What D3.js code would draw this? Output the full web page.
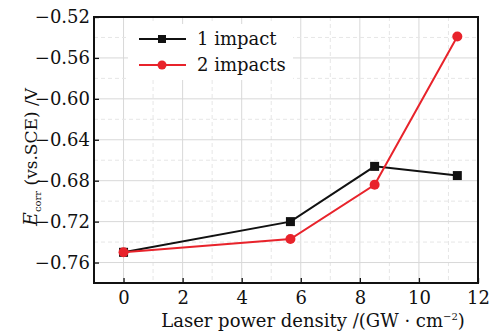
<!DOCTYPE html>
<html>
<head>
<meta charset="utf-8">
<script src="https://d3js.org/d3.v7.min.js"></script>
<style>
  body { margin: 0; background: #fff; }
  svg text { font-family: "DejaVu Serif", serif; }
</style>
</head>
<body>
<div id="container"></div>
<script>
const xValues = [0, 5.65, 8.5, 11.3];
const oneImpact = [-0.750, -0.720, -0.666, -0.675];
const twoImpacts = [-0.750, -0.737, -0.684, -0.539];
const seriesNames = ["1 impact", "2 impacts"];
const xTicks = [0, 2, 4, 6, 8, 10, 12];
const yTicks = [-0.76, -0.72, -0.68, -0.64, -0.60, -0.56, -0.52];

const w = 489, h = 333;
const m = {left: 94, right: 11, top: 17, bottom: 50};

const svg = d3.select("#container").append("svg")
    .attr("width", w).attr("height", h);

const x = d3.scaleLinear().domain([-1, 12]).range([m.left, w - m.right]);
const y = d3.scaleLinear().domain([-0.78, -0.52]).range([h - m.bottom, m.top]);

// grid
const grid = svg.append("g");
d3.range(-1, 12.5, 1).forEach(v => {
    const major = v % 2 === 0;
    grid.append("line")
        .attr("x1", x(v)).attr("x2", x(v))
        .attr("y1", y.range()[1]).attr("y2", y.range()[0])
        .attr("stroke", major ? "#d8d8d8" : "#e6e6e6")
        .attr("stroke-width", 1)
        .attr("stroke-dasharray", major ? null : "4,3");
});
d3.range(-0.78, -0.519, 0.02).forEach(v => {
    const major = Math.round(v * 100) % 4 === 0;
    grid.append("line")
        .attr("x1", x.range()[0]).attr("x2", x.range()[1])
        .attr("y1", y(v)).attr("y2", y(v))
        .attr("stroke", major ? "#d8d8d8" : "#e6e6e6")
        .attr("stroke-width", 1)
        .attr("stroke-dasharray", major ? null : "4,3");
});

// legend background
const legend = svg.append("g");
legend.append("rect")
    .attr("x", 128).attr("y", 24).attr("width", 165).attr("height", 56)
    .attr("fill", "#fff");

// axes
const xAxis = d3.axisBottom(x).tickValues(xTicks).tickSize(-5).tickPadding(8)
    .tickFormat(d3.format("d"));
const yAxis = d3.axisLeft(y).tickValues(yTicks).tickSize(-5).tickPadding(4)
    .tickFormat(d => d3.format(".2f")(d).replace("-", "\u2212"));

svg.append("g").attr("transform", "translate(0," + (h - m.bottom) + ")").call(xAxis)
    .call(g => g.select(".domain").remove())
    .call(g => g.selectAll("text").attr("font-size", 18).attr("fill", "#111"));
svg.append("g").attr("transform", "translate(" + m.left + ",0)").call(yAxis)
    .call(g => g.select(".domain").remove())
    .call(g => g.selectAll("text").attr("font-size", 18).attr("fill", "#111"));
svg.selectAll(".tick line").attr("stroke", "#111").attr("stroke-width", 1.3);

svg.append("rect")
    .attr("x", m.left).attr("y", m.top)
    .attr("width", w - m.left - m.right).attr("height", h - m.top - m.bottom)
    .attr("fill", "none").attr("stroke", "#111").attr("stroke-width", 2);

// lines
const line = d3.line().x((d, i) => x(xValues[i])).y(d => y(d));
const colors = ["#111111", "#e8232b"];

svg.append("path").datum(oneImpact).attr("d", line)
    .attr("fill", "none").attr("stroke", colors[0]).attr("stroke-width", 2);
svg.append("path").datum(twoImpacts).attr("d", line)
    .attr("fill", "none").attr("stroke", colors[1]).attr("stroke-width", 2);

svg.selectAll(".sq").data(oneImpact).enter().append("rect")
    .attr("x", (d, i) => x(xValues[i]) - 4.5).attr("y", d => y(d) - 4.5)
    .attr("width", 9).attr("height", 9).attr("fill", colors[0]);
svg.selectAll(".dot").data(twoImpacts).enter().append("circle")
    .attr("cx", (d, i) => x(xValues[i])).attr("cy", d => y(d))
    .attr("r", 5).attr("fill", colors[1]);

// legend entries
seriesNames.forEach((name, i) => {
    const ly = 39 + i * 26;
    legend.append("line").attr("x1", 139).attr("x2", 186).attr("y1", ly).attr("y2", ly)
        .attr("stroke", colors[i]).attr("stroke-width", 2);
    if (i === 0) {
        legend.append("rect").attr("x", 158).attr("y", ly - 4).attr("width", 8).attr("height", 8)
            .attr("fill", colors[i]);
    } else {
        legend.append("circle").attr("cx", 162).attr("cy", ly).attr("r", 4.5).attr("fill", colors[i]);
    }
    legend.append("text").attr("x", 197).attr("y", ly + 6)
        .attr("font-size", 18).attr("fill", "#111").text(name);
});

// axis titles
const xt = svg.append("text")
    .attr("x", 313).attr("y", 327)
    .attr("text-anchor", "middle").attr("font-size", 18).attr("fill", "#111");
xt.append("tspan").text("Laser power density /(GW \u00b7 cm");
xt.append("tspan").attr("dy", -7).attr("font-size", 10).text("\u22122");
xt.append("tspan").attr("dy", 7).text(")");

const yt = svg.append("text")
    .attr("transform", "translate(37,157) rotate(-90)")
    .attr("text-anchor", "middle").attr("font-size", 17).attr("fill", "#111");
yt.append("tspan").attr("font-style", "italic").attr("font-size", 19).text("E");
yt.append("tspan").attr("dy", 4).attr("font-size", 10).text("corr");
yt.append("tspan").attr("dy", -4).text(" (vs.SCE) /V");
</script>
</body>
</html>
